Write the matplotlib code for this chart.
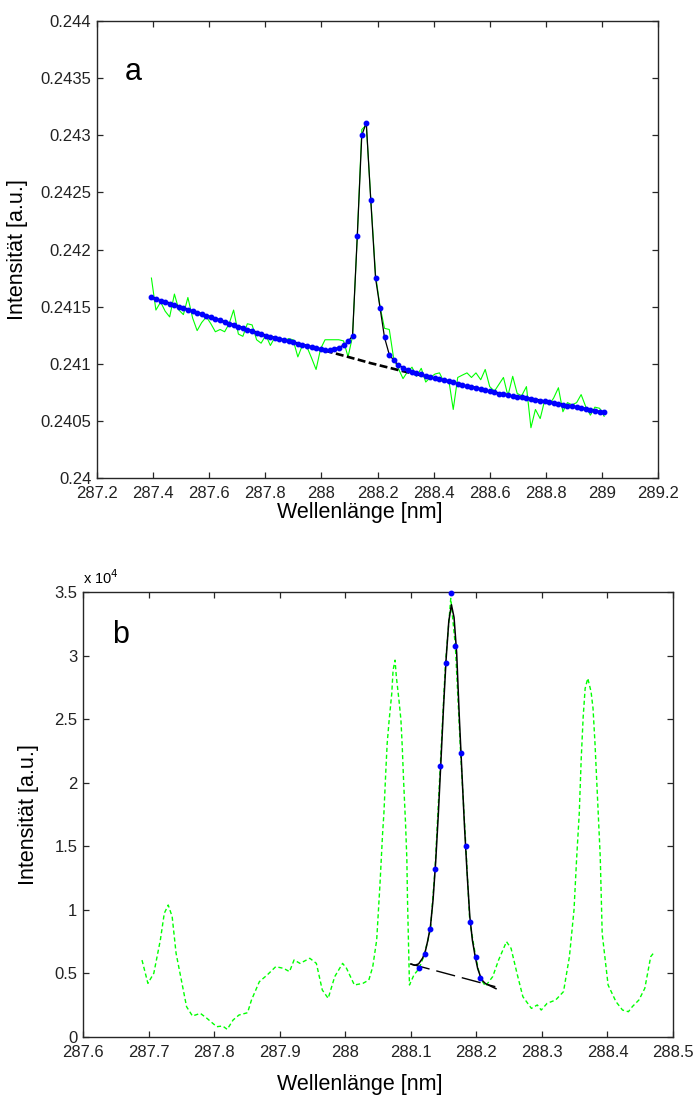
import matplotlib
matplotlib.use("Agg")
import matplotlib.pyplot as plt
from matplotlib.ticker import FuncFormatter, MultipleLocator
import numpy as np

plt.rcParams['font.family'] = ['Liberation Sans', 'DejaVu Sans']

# ---------------- Panel a data (intensity offsets in units of 1e-5 above 0.240) ----------------
wl_a = [287.394, 287.410, 287.427, 287.443, 287.459, 287.476, 287.492, 287.508, 287.524, 287.541,
        287.557, 287.573, 287.590, 287.606, 287.622, 287.639, 287.655, 287.671, 287.687, 287.704,
        287.720, 287.736, 287.753, 287.769, 287.785, 287.802, 287.818, 287.834, 287.850, 287.867,
        287.883, 287.899, 287.916, 287.932, 287.948, 287.965, 287.981, 287.997, 288.013, 288.030,
        288.046, 288.062, 288.079, 288.095, 288.111, 288.128, 288.144, 288.160, 288.176, 288.193,
        288.209, 288.225, 288.242, 288.258, 288.274, 288.291, 288.307, 288.323, 288.339, 288.356,
        288.372, 288.388, 288.405, 288.421, 288.437, 288.454, 288.470, 288.486, 288.502, 288.519,
        288.535, 288.551, 288.568, 288.584, 288.600, 288.617, 288.633, 288.649, 288.665, 288.682,
        288.698, 288.714, 288.731, 288.747, 288.763, 288.780, 288.796, 288.812, 288.828, 288.845,
        288.861, 288.877, 288.894, 288.910, 288.926, 288.943, 288.959, 288.975, 288.992, 289.008]

measured_a = [175, 147, 154, 146, 141, 161, 147, 143, 158, 140,
              129, 136, 141, 135, 128, 130, 128, 135, 147, 126,
              124, 135, 134, 121, 118, 125, 116, 123, 121, 120,
              122, 121, 106, 116, 115, 105, 95, 113, 121, 121,
              121, 121, 120, 106, 124, 212, 305, 309, 245, 178,
              150, 131, 130, 104, 96, 87, 93, 97, 89, 96,
              84, 88, 91, 92, 84, 86, 60, 88, 90, 92,
              88, 92, 86, 95, 80, 76, 82, 88, 72, 89,
              74, 72, 80, 44, 60, 52, 68, 64, 70, 79,
              58, 66, 64, 66, 73, 62, 55, 62, 61, 54]

fit_a = [158.0, 156.7, 155.3, 154.0, 152.6, 151.3, 150.0, 148.6, 147.3, 145.9,
         144.6, 143.3, 141.9, 140.6, 139.2, 137.9, 136.6, 135.2, 133.9, 132.5,
         131.2, 129.9, 128.5, 127.2, 125.8, 124.6, 123.6, 122.6, 121.6, 120.6,
         119.6, 118.6, 117.6, 116.6, 115.6, 114.5, 113.7, 112.9, 112.3, 112.0,
         113.3, 114.2, 116.3, 119.5, 124.4, 212.0, 300.0, 311.0, 243.0, 175.0,
         149.0, 123.0, 108.0, 103.0, 99.0, 96.7, 94.8, 93.2, 91.8, 90.6,
         89.5, 88.4, 87.4, 86.4, 85.4, 84.5, 83.6, 82.7, 81.7, 80.7,
         79.7, 78.8, 77.8, 76.8, 75.8, 74.9, 73.9, 73.2, 72.5, 71.9,
         71.2, 70.5, 69.8, 69.2, 68.5, 67.8, 67.1, 66.4, 65.6, 64.9,
         64.1, 63.4, 62.6, 61.9, 61.1, 60.4, 59.6, 58.9, 58.1, 57.4]

baseline_a = [158.0, 156.7, 155.3, 154.0, 152.6, 151.3, 150.0, 148.6, 147.3, 145.9,
              144.6, 143.3, 141.9, 140.6, 139.2, 137.9, 136.6, 135.2, 133.9, 132.5,
              131.2, 129.9, 128.5, 127.2, 125.8, 124.6, 123.6, 122.6, 121.6, 120.6,
              119.6, 118.6, 117.6, 116.6, 115.6, 114.5, 113.5, 112.5, 111.5, 110.4,
              109.3, 108.2, 107.1, 106.0, 104.9, 103.8, 102.7, 101.6, 100.5, 99.5,
              98.5, 97.5, 96.5, 95.5, 94.5, 93.5, 92.6, 91.7, 90.8, 89.9,
              89.0, 88.1, 87.2, 86.3, 85.4, 84.5, 83.6, 82.7, 81.7, 80.7,
              79.7, 78.8, 77.8, 76.8, 75.8, 74.9, 73.9, 73.2, 72.5, 71.9,
              71.2, 70.5, 69.8, 69.2, 68.5, 67.8, 67.1, 66.4, 65.6, 64.9,
              64.1, 63.4, 62.6, 61.9, 61.1, 60.4, 59.6, 58.9, 58.1, 57.4]

# ---------------- Panel b data ----------------
wl_b_sim = [287.690, 287.699, 287.708, 287.718, 287.724, 287.730, 287.736, 287.742, 287.752, 287.758,
            287.767, 287.779, 287.789, 287.804, 287.813, 287.820, 287.829, 287.838, 287.851, 287.857,
            287.869, 287.881, 287.894, 287.906, 287.915, 287.922, 287.931, 287.946, 287.956, 287.965,
            287.974, 287.984, 287.996, 288.002, 288.014, 288.027, 288.036, 288.042, 288.048, 288.053,
            288.057, 288.059, 288.062, 288.064, 288.067, 288.071, 288.073, 288.076, 288.078, 288.082,
            288.085, 288.087, 288.089, 288.092, 288.094, 288.095, 288.098, 288.105, 288.113, 288.121,
            288.130, 288.137, 288.145, 288.153, 288.161, 288.168, 288.176, 288.184, 288.190, 288.199,
            288.206, 288.214, 288.225, 288.234, 288.246, 288.253, 288.262, 288.271, 288.284, 288.293,
            288.299, 288.308, 288.321, 288.333, 288.342, 288.349, 288.353, 288.357, 288.360, 288.363,
            288.366, 288.370, 288.375, 288.378, 288.381, 288.385, 288.389, 288.392, 288.401, 288.413,
            288.423, 288.432, 288.438, 288.448, 288.457, 288.466, 288.472]
int_b_sim = [6050, 4220, 5010, 7630, 9730, 10380, 9470, 6580, 3960, 2380,
             1650, 1860, 1470, 810, 865, 600, 1340, 1730, 1910, 2910,
             4350, 4880, 5530, 5400, 5140, 6060, 5790, 6190, 5790, 3700,
             3040, 4750, 5790, 5400, 4090, 4220, 4480, 5530, 7630, 12000,
             16000, 17590, 21000, 23090, 24920, 27020, 28850, 29640, 28330, 26490,
             24920, 22830, 20200, 16800, 14000, 10780, 4090, 4900, 5400, 6530,
             8470, 13190, 21340, 29440, 34500, 30750, 22360, 15020, 9070, 6320,
             4610, 4000, 4750, 6060, 7500, 6970, 5010, 3170, 2250, 2520,
             2120, 2650, 2910, 3570, 6320, 10000, 14050, 17590, 21900, 25190,
             27420, 28210, 27160, 25850, 23100, 18640, 14180, 8130, 4090, 2780,
             2120, 1990, 2390, 2910, 3830, 6320, 6710]

wl_b_pts = [288.113, 288.121, 288.130, 288.137, 288.145, 288.153, 288.161,
            288.168, 288.176, 288.184, 288.190, 288.199, 288.206]
int_b_pts = [5400, 6527, 8468, 13187, 21340, 29440, 34946,
             30752, 22361, 15022, 9069, 6317, 4614]

wl_b_fit = [288.100, 288.106, 288.112, 288.118, 288.122, 288.126, 288.130, 288.134, 288.138, 288.142,
            288.146, 288.150, 288.154, 288.158, 288.162, 288.166, 288.170, 288.174, 288.178, 288.182,
            288.186, 288.190, 288.194, 288.198, 288.202, 288.206, 288.210, 288.214, 288.218, 288.222,
            288.226, 288.230]
int_b_fit = [5740, 5640, 5750, 6200, 6700, 7600, 8700, 10800, 13800, 17500,
             21700, 26000, 29800, 32700, 34000, 33000, 30200, 25200, 20800, 16500,
             12800, 9500, 7600, 6400, 5400, 4800, 4400, 4200, 4100, 4000,
             3900, 3800]

wl_b_base = [288.100, 288.229]
int_b_base = [5741, 3959]

# ---------------- Figure ----------------
W, H = 697, 1097
fig = plt.figure(figsize=(W / 100, H / 100), dpi=100)
ax1 = fig.add_axes([97 / W, 1 - 478 / H, 561 / W, 457 / H])
ax2 = fig.add_axes([83 / W, 1 - 1037 / H, 590 / W, 445 / H])

GREEN = '#00ff00'
BLUE = '#0000ff'
AXC = '#262626'
LABEL_FS = 15.5
TICK_FS = 12

ya = lambda v: 0.240 + np.asarray(v) * 1e-5

ax1.plot(wl_a, ya(measured_a), color=GREEN, lw=0.8, zorder=2)
ax1.plot(wl_a, ya(baseline_a), color='black', lw=1.9, ls=(0, (3, 1.3)), zorder=3)
ax1.plot(wl_a, ya(fit_a), color='black', lw=0.9, zorder=4)
ax1.plot(wl_a, ya(fit_a), ls='none', marker='o', ms=3.2, mfc=BLUE, mec=BLUE, zorder=5)

ax1.set_xlim(287.2, 289.2)
ax1.set_ylim(0.240, 0.244)
ax1.xaxis.set_major_locator(MultipleLocator(0.2))
ax1.yaxis.set_major_locator(MultipleLocator(0.0005))
ax1.xaxis.set_major_formatter(FuncFormatter(lambda v, p: '%g' % round(v, 4)))
ax1.yaxis.set_major_formatter(FuncFormatter(lambda v, p: '%g' % round(v, 5)))
ax1.set_xlabel('Wellenlänge [nm]', fontsize=LABEL_FS)
ax1.set_ylabel('Intensität [a.u.]', fontsize=LABEL_FS)
ax1.xaxis.set_label_coords(0.469, -0.052)
ax1.yaxis.set_label_coords(-0.123, 0.5)
ax1.text(0.064, 0.871, 'a', transform=ax1.transAxes, fontsize=22, ha='center', va='baseline')

ax2.plot(wl_b_sim, int_b_sim, color=GREEN, lw=1.0, ls=(0, (3, 2)), zorder=2)
ax2.plot(wl_b_base, int_b_base, color='black', lw=1.0, ls=(0, (14, 5)), zorder=3)
ax2.plot(wl_b_fit, int_b_fit, color='black', lw=1.1, zorder=4)
ax2.plot(wl_b_pts, int_b_pts, ls='none', marker='o', ms=3.2, mfc=BLUE, mec=BLUE, zorder=5,
         clip_on=False)

ax2.set_xlim(287.6, 288.5)
ax2.set_ylim(0, 35000)
ax2.xaxis.set_major_locator(MultipleLocator(0.1))
ax2.yaxis.set_major_locator(MultipleLocator(5000))
ax2.xaxis.set_major_formatter(FuncFormatter(lambda v, p: '%g' % round(v, 4)))
ax2.yaxis.set_major_formatter(FuncFormatter(lambda v, p: '%g' % round(v / 1e4, 4)))
ax2.set_xlabel('Wellenlänge [nm]', fontsize=LABEL_FS)
ax2.set_ylabel('Intensität [a.u.]', fontsize=LABEL_FS)
ax2.xaxis.set_label_coords(0.469, -0.084)
ax2.yaxis.set_label_coords(-0.075, 0.5)
ax2.text(0.063, 0.885, 'b', transform=ax2.transAxes, fontsize=22, ha='center', va='baseline')
ax2.text(0.0, 1.012, r'x 10$^{4}$', transform=ax2.transAxes, fontsize=10.5, ha='left', va='bottom')

for ax in (ax1, ax2):
    for s in ax.spines.values():
        s.set_color(AXC)
        s.set_linewidth(1.0)
    ax.tick_params(direction='in', length=4, width=0.9, color=AXC, labelsize=TICK_FS,
                   labelcolor='#222222', top=True, right=True, pad=4)
    ax.tick_params(axis='x', pad=6)

fig.savefig('out.png', dpi=100)
